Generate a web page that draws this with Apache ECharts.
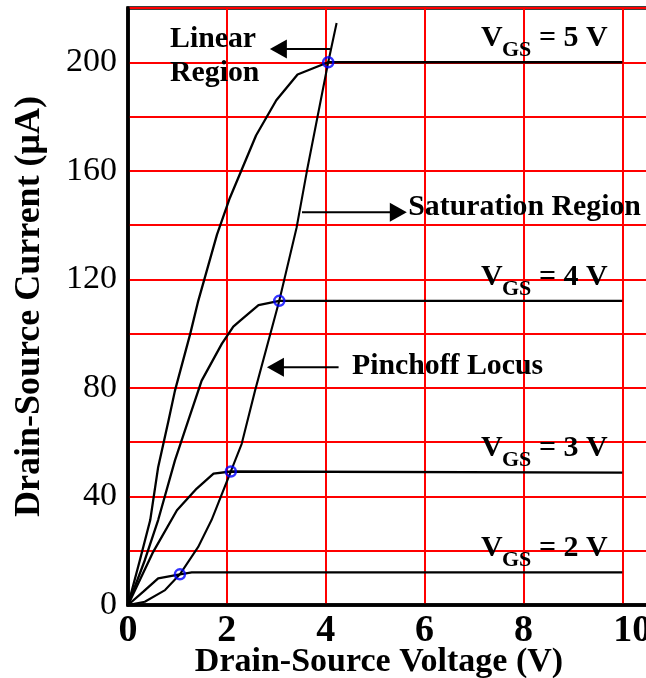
<!DOCTYPE html>
<html>
<head>
<meta charset="utf-8">
<script src="https://cdn.jsdelivr.net/npm/echarts@6/dist/echarts.min.js"></script>
<style>
  html, body { margin: 0; padding: 0; background: #fff; }
  #chart { width: 646px; height: 678px; }
</style>
</head>
<body>
<div id="chart"></div>
<script>
// curves: [Vds, Id]
var vgsValues = [2, 3, 4, 5];
var curveVgs2 = [[0, 0], [0.31, 4.9], [0.61, 9.8], [1.05, 11.3], [1.29, 12], [10, 12]];
var curveVgs3 = [[0, 0], [0.51, 19.6], [0.99, 34.9], [1.39, 42.9], [1.73, 48.4], [2.08, 49.2], [10, 48.8]];
var curveVgs4 = [[0, 0], [0.34, 16.5], [0.61, 31.3], [0.95, 53.3], [1.22, 68], [1.49, 82.7], [1.9, 96.3],
                 [2.13, 102.6], [2.27, 104.8], [2.64, 110.5], [3.06, 112.1], [10, 112.1]];
var curveVgs5 = [[0, 0], [0.24, 16.5], [0.45, 31.3], [0.61, 50.8], [0.82, 68], [0.95, 79], [1.26, 100],
                 [1.42, 112], [1.8, 136.5], [2.06, 150], [2.59, 173], [3.0, 186], [3.43, 195.5], [4.05, 200], [10, 200]];
var pinchoffLocus = [[0, 0], [0.34, 1.2], [0.75, 5.5], [1.05, 11.3], [1.42, 21.4], [1.69, 31.3], [2.08, 49.2],
                     [2.3, 59.4], [2.57, 79], [3.06, 112.1], [3.41, 139], [3.62, 160], [4.05, 200], [4.22, 214.5]];
var pinchPoints = [[1.05, 11.3], [2.08, 49.2], [3.06, 112.1], [4.05, 200]];
var xTickLabels = [0, 2, 4, 6, 8, 10];
var yTickLabels = [0, 40, 80, 120, 160, 200];

var chart = echarts.init(document.getElementById('chart'));
var serif = '"Liberation Serif", "Times New Roman", serif';
var curves = [curveVgs2, curveVgs3, curveVgs4, curveVgs5];

var series = curves.map(function (c, i) {
  return {
    name: 'VGS = ' + vgsValues[i] + ' V',
    type: 'line',
    data: c,
    symbol: 'none',
    lineStyle: { color: '#000', width: 2.3 },
    z: 3
  };
});
series.push({
  name: 'Pinchoff Locus',
  type: 'line',
  data: pinchoffLocus,
  symbol: 'none',
  lineStyle: { color: '#000', width: 2.1 },
  z: 3
});
series.push({
  name: 'pinch',
  type: 'scatter',
  data: pinchPoints,
  symbol: 'circle',
  symbolSize: 10,
  itemStyle: { color: 'rgba(0,0,0,0)', borderColor: '#0000ff', borderWidth: 2.5 },
  z: 5
});

var option = {
  backgroundColor: '#fff',
  animation: false,
  grid: {
    left: 128, top: 8, width: 524, height: 597,
    show: true, borderColor: '#000', borderWidth: 3.5,
    containLabel: false, outerBoundsMode: 'none'
  },
  xAxis: {
    type: 'value', min: 0, max: 10.6, interval: 2,
    name: 'Drain-Source Voltage (V)', nameLocation: 'middle', nameGap: 40, nameMoveOverlap: false,
    nameTextStyle: { fontFamily: serif, fontWeight: 'bold', fontSize: 34, color: '#000', padding: [0, 22, 0, 0] },
    axisLine: { lineStyle: { color: '#000', width: 3.5 } },
    axisTick: { show: false },
    axisLabel: {
      margin: 7, fontFamily: serif, fontWeight: 'bold', fontSize: 38, color: '#000',
      showMaxLabel: false,
      formatter: function (v) {
        if (xTickLabels.indexOf(v) < 0) return '';
        return v === 10 ? '{edge|10}' : String(v);
      },
      rich: {
        edge: { fontFamily: serif, fontWeight: 'bold', fontSize: 38, color: '#000', padding: [0, 0, 0, 20] }
      }
    },
    splitLine: { show: true, lineStyle: { color: '#ff0000', width: 2 } }
  },
  yAxis: {
    type: 'value', min: 0, max: 220, interval: 20,
    name: 'Drain-Source Current (\u03bcA)', nameLocation: 'middle', nameGap: 80, nameMoveOverlap: false,
    nameTextStyle: { fontFamily: serif, fontWeight: 'bold', fontSize: 36, color: '#000' },
    axisLine: { lineStyle: { color: '#000', width: 3.5 } },
    axisTick: { show: false },
    axisLabel: {
      margin: 11, fontFamily: serif, fontSize: 34, color: '#000',
      formatter: function (v) { return yTickLabels.indexOf(v) >= 0 ? String(v) : ''; }
    },
    splitLine: { show: true, lineStyle: { color: '#ff0000', width: 2 } }
  },
  series: series
};

chart.setOption(option);

// annotations: placed in data coordinates, converted with the grid's own scales
function px(p) { return chart.convertToPixel({ gridIndex: 0 }, p); }

function txt(s, x, baseline, size) {
  return {
    type: 'text', x: x, y: baseline - 0.33 * size, z: 10,
    style: {
      text: s, fill: '#000', fontFamily: serif, fontWeight: 'bold', fontSize: size,
      align: 'left', verticalAlign: 'middle', textAlign: 'left', textVerticalAlign: 'middle'
    }
  };
}

function arrow(from, to) {
  var a = px(from), b = px(to);
  var dir = b[0] > a[0] ? 1 : -1;
  var len = 17, half = 9.5;
  return [
    { type: 'line', z: 10, shape: { x1: a[0], y1: a[1], x2: b[0] - dir * len * 0.6, y2: b[1] },
      style: { stroke: '#000', lineWidth: 2 } },
    { type: 'polygon', z: 10,
      shape: { points: [[b[0], b[1]], [b[0] - dir * len, b[1] - half], [b[0] - dir * len, b[1] + half]] },
      style: { fill: '#000' } }
  ];
}

var notes = [
  { text: 'Linear', at: [0.85, 204.8] },
  { text: 'Region', at: [0.85, 192.4] },
  { text: 'Saturation Region', at: [5.67, 143.1] },
  { text: 'Pinchoff Locus', at: [4.53, 84.4] }
];
var arrows = [
  { from: [4.09, 204.9], to: [2.87, 204.9] },
  { from: [3.52, 144.7], to: [5.64, 144.7] },
  { from: [4.26, 87.6], to: [2.81, 87.6] }
];

var elements = [];
notes.forEach(function (n) {
  var p = px(n.at);
  elements.push(txt(n.text, p[0], p[1], 29.8));
});
arrows.forEach(function (a) {
  elements = elements.concat(arrow(a.from, a.to));
});
curves.forEach(function (c, i) {
  var last = c[c.length - 1];
  var p = px([7.14, last[1]]);
  var x0 = p[0], base = p[1] - 14;
  elements.push(txt('V', x0, base, 30));
  elements.push(txt('GS', x0 + 21, base + 9.4, 22));
  elements.push(txt(' = ' + vgsValues[i] + ' V', x0 + 50.5, base, 30));
});

chart.setOption({ graphic: { elements: elements } });
</script>
</body>
</html>
